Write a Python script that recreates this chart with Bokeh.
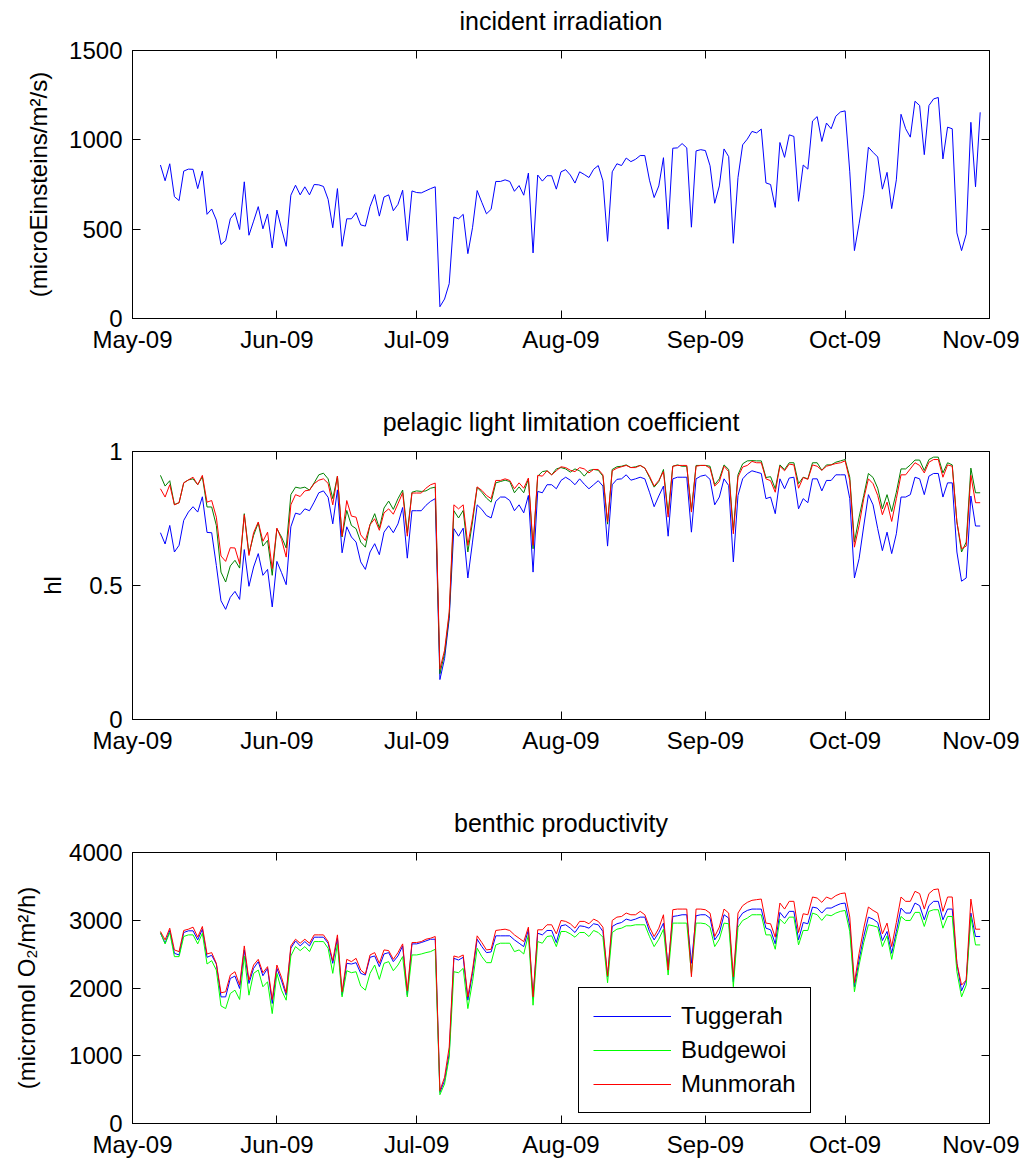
import pandas as pd
from bokeh.plotting import figure
from bokeh.layouts import column
from bokeh.models import (Range1d, FixedTicker, DatetimeTickFormatter, LinearAxis, DatetimeAxis,
                          Legend, LegendItem, NumeralTickFormatter)
from bokeh.embed import file_html
from bokeh.resources import INLINE

# ---------------- data ----------------
dates = pd.date_range("2009-05-07", "2009-10-30", freq="D")

month_ticks = ["2009-05-01", "2009-06-01", "2009-07-01", "2009-08-01", "2009-09-01", "2009-10-01", "2009-11-01"]
month_labels = ["May-09", "Jun-09", "Jul-09", "Aug-09", "Sep-09", "Oct-09", "Nov-09"]

irradiance = [
    859, 771, 866, 682, 660, 825, 836, 835, 727, 825, 583, 613, 551, 414, 436, 558, 592, 498, 765, 466,
    545, 626, 502, 585, 395, 607, 502, 404, 690, 746, 692, 737, 692, 750, 748, 739, 667, 508, 727, 404,
    558, 558, 592, 524, 517, 626, 694, 573, 680, 692, 603, 639, 718, 436, 714, 705,
    703, 715, 727, 737, 66, 109, 195, 568, 558, 583, 363, 508, 716, 650, 586, 611, 767, 767, 776, 767,
    712, 744, 690, 814, 367, 803, 769, 799, 799, 724, 821, 833, 803, 758, 821, 806, 789, 835, 856, 771,
    432, 821, 866, 856, 898, 878, 891, 912, 912, 774, 677, 742, 900, 500, 953, 955, 979, 955, 511, 938,
    945, 940,
    855, 645, 742, 949, 906, 421, 789, 972, 1004, 1047, 1039, 1060, 759, 750, 622, 985, 902, 1028, 1019, 656,
    859, 836, 1105, 1130, 991, 1094, 1062, 1132, 1156, 1162, 821, 380, 530, 692, 959, 930, 904, 724, 818, 615,
    776, 1143, 1062, 1015, 1216, 1192, 917, 1192, 1229, 1237, 893, 1071, 1062, 479, 380, 472, 1098, 737, 1154,
]

hl_tuggerah = [
    0.697, 0.655, 0.724, 0.625, 0.650, 0.743, 0.774, 0.794, 0.774, 0.831, 0.698, 0.697, 0.575, 0.443, 0.411, 0.456, 0.478, 0.448, 0.634, 0.497,
    0.569, 0.619, 0.538, 0.560, 0.420, 0.590, 0.548, 0.503, 0.719, 0.770, 0.765, 0.786, 0.779, 0.811, 0.846, 0.853, 0.829, 0.730, 0.857, 0.622,
    0.719, 0.681, 0.662, 0.588, 0.560, 0.625, 0.656, 0.615, 0.699, 0.723, 0.697, 0.730, 0.791, 0.602, 0.779, 0.779,
    0.779, 0.799, 0.814, 0.824, 0.149, 0.227, 0.376, 0.712, 0.684, 0.714, 0.528, 0.662, 0.801, 0.784, 0.761, 0.752, 0.814, 0.830, 0.830, 0.817,
    0.779, 0.801, 0.771, 0.836, 0.550, 0.851, 0.846, 0.876, 0.876, 0.861, 0.892, 0.904, 0.893, 0.876, 0.898, 0.878, 0.861, 0.876, 0.891, 0.871,
    0.647, 0.876, 0.896, 0.898, 0.913, 0.893, 0.898, 0.904, 0.898, 0.848, 0.794, 0.834, 0.871, 0.684, 0.898, 0.904, 0.904, 0.904, 0.699, 0.898,
    0.908, 0.912,
    0.896, 0.801, 0.830, 0.898, 0.873, 0.588, 0.836, 0.898, 0.917, 0.928, 0.923, 0.918, 0.824, 0.830, 0.768, 0.898, 0.861, 0.901, 0.904, 0.786,
    0.824, 0.809, 0.898, 0.898, 0.853, 0.892, 0.892, 0.913, 0.913, 0.913, 0.824, 0.528, 0.600, 0.722, 0.839, 0.801, 0.712, 0.630, 0.699, 0.619,
    0.693, 0.830, 0.830, 0.839, 0.904, 0.898, 0.839, 0.908, 0.918, 0.918, 0.830, 0.883, 0.883, 0.625, 0.516, 0.528, 0.834, 0.722, 0.722,
]

hl_budgewoi = [
    0.911, 0.871, 0.891, 0.802, 0.809, 0.883, 0.894, 0.898, 0.876, 0.906, 0.793, 0.793, 0.724, 0.550, 0.513, 0.573, 0.594, 0.565, 0.768, 0.619,
    0.687, 0.734, 0.647, 0.668, 0.538, 0.712, 0.681, 0.640, 0.839, 0.867, 0.863, 0.867, 0.856, 0.883, 0.913, 0.919, 0.898, 0.824, 0.908, 0.681,
    0.780, 0.724, 0.712, 0.662, 0.643, 0.727, 0.768, 0.714, 0.789, 0.815, 0.784, 0.824, 0.856, 0.697, 0.848, 0.853,
    0.851, 0.853, 0.863, 0.867, 0.171, 0.246, 0.389, 0.779, 0.752, 0.780, 0.625, 0.737, 0.866, 0.848, 0.826, 0.811, 0.883, 0.888, 0.893, 0.888,
    0.846, 0.868, 0.846, 0.898, 0.637, 0.908, 0.925, 0.928, 0.913, 0.935, 0.940, 0.935, 0.923, 0.935, 0.928, 0.908, 0.929, 0.933, 0.930, 0.908,
    0.729, 0.933, 0.943, 0.945, 0.950, 0.940, 0.943, 0.948, 0.938, 0.903, 0.867, 0.888, 0.933, 0.768, 0.945, 0.950, 0.945, 0.945, 0.780, 0.948,
    0.948, 0.948,
    0.945, 0.876, 0.898, 0.950, 0.933, 0.706, 0.913, 0.954, 0.965, 0.966, 0.965, 0.965, 0.903, 0.906, 0.861, 0.950, 0.933, 0.958, 0.958, 0.880,
    0.904, 0.898, 0.958, 0.958, 0.930, 0.950, 0.950, 0.960, 0.965, 0.970, 0.904, 0.662, 0.755, 0.836, 0.918, 0.903, 0.863, 0.786, 0.839, 0.776,
    0.848, 0.935, 0.935, 0.950, 0.968, 0.968, 0.929, 0.970, 0.979, 0.979, 0.920, 0.958, 0.950, 0.737, 0.625, 0.662, 0.938, 0.846, 0.846,
]

hl_munmorah = [
    0.861, 0.830, 0.876, 0.801, 0.809, 0.883, 0.894, 0.904, 0.876, 0.911, 0.811, 0.817, 0.755, 0.610, 0.590, 0.641, 0.640, 0.581, 0.764, 0.612,
    0.697, 0.737, 0.665, 0.699, 0.563, 0.714, 0.672, 0.606, 0.801, 0.839, 0.832, 0.853, 0.856, 0.880, 0.893, 0.898, 0.881, 0.801, 0.908, 0.684,
    0.817, 0.759, 0.755, 0.689, 0.668, 0.727, 0.749, 0.706, 0.771, 0.786, 0.766, 0.805, 0.846, 0.684, 0.845, 0.845,
    0.845, 0.863, 0.876, 0.882, 0.188, 0.258, 0.401, 0.801, 0.786, 0.801, 0.650, 0.752, 0.868, 0.855, 0.836, 0.824, 0.892, 0.892, 0.898, 0.892,
    0.861, 0.883, 0.863, 0.901, 0.650, 0.911, 0.908, 0.928, 0.913, 0.928, 0.943, 0.940, 0.930, 0.925, 0.940, 0.935, 0.920, 0.933, 0.933, 0.913,
    0.737, 0.928, 0.938, 0.943, 0.948, 0.940, 0.940, 0.948, 0.938, 0.908, 0.871, 0.892, 0.925, 0.755, 0.945, 0.948, 0.948, 0.948, 0.774, 0.945,
    0.948, 0.948,
    0.938, 0.871, 0.888, 0.945, 0.925, 0.693, 0.904, 0.942, 0.948, 0.963, 0.958, 0.958, 0.898, 0.891, 0.848, 0.945, 0.928, 0.953, 0.950, 0.863,
    0.903, 0.896, 0.950, 0.945, 0.930, 0.945, 0.950, 0.955, 0.958, 0.965, 0.892, 0.643, 0.724, 0.824, 0.898, 0.880, 0.836, 0.764, 0.811, 0.739,
    0.824, 0.913, 0.913, 0.935, 0.958, 0.948, 0.920, 0.960, 0.970, 0.970, 0.904, 0.950, 0.945, 0.737, 0.637, 0.647, 0.911, 0.809, 0.809,
]

prod_tuggerah = [
    2809, 2661, 2849, 2512, 2488, 2819, 2844, 2844, 2710, 2868, 2453, 2483, 2354, 1869, 1869, 2141, 2176, 1993, 2562, 2067,
    2290, 2389, 2181, 2290, 1771, 2290, 2107, 1894, 2587, 2695, 2621, 2685, 2621, 2750, 2750, 2750, 2661, 2364, 2735, 1894,
    2364, 2354, 2374, 2216, 2191, 2453, 2473, 2315, 2502, 2522, 2389, 2473, 2621, 1894, 2651, 2651,
    2671, 2695, 2720, 2720, 460, 633, 1029, 2438, 2413, 2453, 1820, 2216, 2720, 2611, 2522, 2532, 2770, 2770, 2770, 2770,
    2710, 2661, 2611, 2859, 1845, 2809, 2784, 2849, 2849, 2671, 2918, 2933, 2883, 2819, 2918, 2908, 2883, 2948, 2933, 2834,
    2166, 2908, 2948, 2967, 3017, 2997, 3017, 3046, 3046, 2834, 2710, 2819, 2958, 2315, 3056, 3066, 3081, 3081, 2364, 3066,
    3081, 3081,
    3032, 2710, 2809, 3081, 3032, 2092, 3007, 3106, 3145, 3165, 3165, 3165, 2883, 2859, 2651, 3116, 3032, 3131, 3131, 2710,
    2967, 2948, 3195, 3180, 3106, 3180, 3180, 3215, 3244, 3254, 2918, 2018, 2413, 2760, 3046, 3017, 2967, 2700, 2834, 2512,
    2834, 3180, 3106, 3106, 3254, 3215, 3007, 3215, 3279, 3279, 3007, 3165, 3165, 2364, 1958, 2117, 3106, 2760, 2760,
]

prod_budgewoi = [
    2819, 2651, 2819, 2463, 2463, 2760, 2784, 2784, 2651, 2809, 2354, 2403, 2265, 1736, 1696, 1919, 1968, 1830, 2473, 1894,
    2216, 2265, 2018, 2092, 1622, 2216, 1968, 1820, 2473, 2611, 2552, 2611, 2537, 2685, 2685, 2685, 2587, 2216, 2651, 1869,
    2255, 2226, 2240, 2028, 1968, 2216, 2339, 2127, 2364, 2389, 2255, 2339, 2463, 1869, 2488, 2488,
    2502, 2522, 2537, 2572, 425, 584, 979, 2240, 2226, 2290, 1696, 2092, 2587, 2463, 2374, 2374, 2636, 2661, 2661, 2661,
    2537, 2562, 2502, 2784, 1746, 2685, 2661, 2760, 2770, 2611, 2834, 2834, 2799, 2750, 2819, 2819, 2760, 2849, 2819, 2750,
    2077, 2819, 2868, 2883, 2918, 2918, 2933, 2933, 2933, 2760, 2611, 2720, 2868, 2191, 2958, 2958, 2958, 2958, 2216, 2958,
    2958, 2948,
    2898, 2611, 2720, 2958, 2948, 2018, 2898, 2997, 3032, 3081, 3081, 3081, 2784, 2784, 2572, 3017, 2948, 3046, 3046, 2636,
    2849, 2849, 3106, 3081, 2997, 3081, 3066, 3106, 3131, 3145, 2834, 1944, 2339, 2671, 2933, 2918, 2898, 2611, 2770, 2423,
    2760, 3056, 2997, 2997, 3116, 3116, 2908, 3131, 3155, 3155, 2883, 3056, 3056, 2240, 1869, 2043, 3056, 2636, 2636,
]

prod_munmorah = [
    2834, 2710, 2883, 2562, 2537, 2849, 2868, 2898, 2750, 2908, 2502, 2522, 2364, 1929, 1944, 2191, 2240, 2043, 2621, 2117,
    2339, 2423, 2226, 2315, 1830, 2339, 2156, 1929, 2621, 2720, 2661, 2720, 2661, 2784, 2784, 2784, 2685, 2403, 2784, 1944,
    2423, 2389, 2438, 2265, 2206, 2488, 2522, 2364, 2562, 2552, 2423, 2522, 2651, 1958, 2671, 2671,
    2685, 2720, 2735, 2760, 485, 682, 1128, 2473, 2453, 2488, 1869, 2265, 2770, 2671, 2562, 2572, 2849, 2859, 2868, 2849,
    2784, 2735, 2685, 2898, 1869, 2859, 2859, 2933, 2933, 2799, 2997, 2983, 2948, 2883, 2983, 2983, 2948, 3017, 2983, 2898,
    2176, 2997, 3046, 3056, 3106, 3081, 3081, 3131, 3081, 2898, 2760, 2883, 3081, 2265, 3155, 3165, 3165, 3165, 2166, 3165,
    3165, 3155,
    3106, 2760, 2898, 3165, 3106, 2166, 3106, 3215, 3264, 3294, 3304, 3313, 2958, 2948, 2750, 3254, 3165, 3279, 3279, 2819,
    3096, 3081, 3343, 3328, 3264, 3343, 3313, 3363, 3393, 3403, 3046, 2077, 2512, 2883, 3195, 3145, 3106, 2799, 2958, 2611,
    2967, 3343, 3279, 3279, 3427, 3393, 3165, 3393, 3452, 3462, 3131, 3343, 3343, 2364, 2043, 2117, 3313, 2868, 2868,
]

site_names = ["Tuggerah", "Budgewoi", "Munmorah"]
titles = ["incident irradiation", "pelagic light limitation coefficient", "benthic productivity"]

# ---------------- styling ----------------
FONT = "Liberation Sans"
TICK_PX = "24px"
FRAME_W = 857
tick_ms = [int(pd.Timestamp(t).value // 10**6) for t in month_ticks]
x_start = pd.Timestamp(month_ticks[0])
x_end = pd.Timestamp(month_ticks[-1])


def style_axis(ax, labels=True, standoff=10):
    ax.major_tick_in = 8
    ax.major_tick_out = 0
    ax.minor_tick_in = 0
    ax.minor_tick_out = 0
    ax.axis_line_color = "black"
    ax.major_tick_line_color = "black"
    ax.major_label_text_font = FONT
    ax.axis_label_text_font = FONT
    ax.axis_label_text_font_style = "normal"
    ax.axis_label_text_font_size = TICK_PX
    ax.axis_label_text_color = "black"
    if labels:
        ax.major_label_text_color = "black"
        ax.major_label_text_font_size = TICK_PX
        ax.major_label_standoff = standoff
    else:
        # tick marks only (MATLAB box style); no tick labels are drawn
        ax.major_label_text_color = None
        ax.major_label_text_alpha = 0
        ax.major_label_text_font_size = "1px"
        ax.major_label_standoff = 0


def make_fig(title, ylabel, yticks, ymax, ylabel_standoff, top_border, bottom_border, frame_h=268):
    p = figure(x_axis_type="datetime", frame_width=FRAME_W, frame_height=frame_h,
               x_range=Range1d(x_start, x_end), y_range=Range1d(0, ymax),
               output_backend="svg", toolbar_location=None,
               min_border_left=132, min_border_right=30,
               min_border_top=top_border, min_border_bottom=bottom_border)
    p.background_fill_color = "white"
    p.border_fill_color = "white"
    p.outline_line_color = "black"
    p.outline_line_alpha = 1.0
    p.outline_line_width = 1
    p.xgrid.visible = False
    p.ygrid.visible = False

    xt = FixedTicker(ticks=tick_ms)
    fmt = DatetimeTickFormatter(days="%b-%y", months="%b-%y", years="%b-%y")
    xa = p.xaxis[0]
    xa.ticker = xt
    xa.formatter = fmt
    xa.major_label_overrides = {t: l for t, l in zip(tick_ms, month_labels)}
    style_axis(xa, labels=True, standoff=7)

    ya = p.yaxis[0]
    ya.ticker = FixedTicker(ticks=yticks)
    ya.axis_label = ylabel
    ya.axis_label_standoff = ylabel_standoff
    style_axis(ya, labels=True, standoff=10)

    ra = LinearAxis(ticker=FixedTicker(ticks=yticks))
    style_axis(ra, labels=False)
    ra.axis_line_color = None
    p.add_layout(ra, "right")

    # top box axis: inward ticks, and the panel title as its label
    ta = DatetimeAxis(ticker=FixedTicker(ticks=tick_ms))
    style_axis(ta, labels=False)
    ta.axis_line_color = None
    ta.axis_label = title
    ta.axis_label_text_font_size = "25px"
    ta.axis_label_standoff = 16
    p.add_layout(ta, "above")
    return p


# ---- panel 1 : incident irradiation
p1 = make_fig(titles[0], "(microEinsteins/m\u00b2/s)", [0, 500, 1000, 1500], 1500, 14, 50, 85)
p1.line(dates, irradiance, line_color="#0000ff", line_width=1)

# ---- panel 2 : pelagic light limitation
p2 = make_fig(titles[1], "hl", [0, 0.5, 1], 1, 20, 48, 85)
p2.yaxis[0].formatter = NumeralTickFormatter(format="0.[0]")
p2.line(dates, hl_tuggerah, line_color="#0000ff", line_width=1)
p2.line(dates, hl_budgewoi, line_color="#008000", line_width=1)
p2.line(dates, hl_munmorah, line_color="#ff0000", line_width=1)

# ---- panel 3 : benthic productivity
p3 = make_fig(titles[2], "(micromol O\u2082/m\u00b2/h)", [0, 1000, 2000, 3000, 4000], 4000, 26, 48, 30, frame_h=271)
r1 = p3.line(dates, prod_tuggerah, line_color="#0000ff", line_width=1)
r2 = p3.line(dates, prod_budgewoi, line_color="#00ff00", line_width=1)
r3 = p3.line(dates, prod_munmorah, line_color="#ff0000", line_width=1)

legend = Legend(items=[LegendItem(label=n, renderers=[r]) for n, r in zip(site_names, [r1, r2, r3])],
                location=(446, 10))
legend.border_line_color = "black"
legend.border_line_width = 1
legend.border_line_alpha = 1.0
legend.background_fill_color = "white"
legend.background_fill_alpha = 1.0
legend.label_text_font = FONT
legend.label_text_font_size = TICK_PX
legend.label_text_color = "black"
legend.glyph_width = 78
legend.glyph_height = 28
legend.label_height = 28
legend.spacing = 6
legend.padding = 14
legend.margin = 0
legend.label_standoff = 10
p3.add_layout(legend)

layout = column(p1, p2, p3, spacing=0)
open("out.html", "w").write(file_html(layout, INLINE))
